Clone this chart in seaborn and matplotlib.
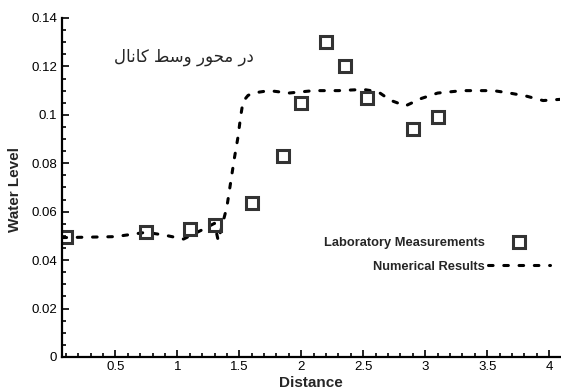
import numpy as np
import matplotlib
matplotlib.use("Agg")
import matplotlib.pyplot as plt
from matplotlib.lines import Line2D
from matplotlib.ticker import MultipleLocator, FuncFormatter
import seaborn as sns

# laboratory measurements (squares)
lab_x = [0.1, 0.75, 1.1, 1.3, 1.6, 1.85, 2.0, 2.2, 2.35, 2.53, 2.9, 3.1]
lab_y = [0.0495, 0.0515, 0.053, 0.0545, 0.0635, 0.083, 0.105, 0.130, 0.120, 0.107, 0.094, 0.099]

# numerical results (dashed line)
num_x = [0.07, 0.3, 0.5, 0.75, 0.9, 1.05, 1.2, 1.3, 1.33, 1.40, 1.43, 1.46, 1.49, 1.51,
         1.53, 1.57, 1.61, 1.74, 1.9, 2.1, 2.3, 2.5, 2.62, 2.72, 2.84, 2.97, 3.1, 3.3,
         3.55, 3.68, 3.81, 3.95, 4.09]
num_y = [0.0493, 0.0495, 0.0497, 0.0515, 0.0503, 0.0487, 0.0525, 0.0552, 0.048, 0.062,
         0.072, 0.082, 0.091, 0.099, 0.1055, 0.108, 0.109, 0.110, 0.109, 0.110, 0.110,
         0.1105, 0.1095, 0.106, 0.1037, 0.1068, 0.109, 0.110, 0.110, 0.109, 0.1078,
         0.1059, 0.1064]

# "در محور وسط کانال" in presentation forms, visual order (matplotlib does no shaping)
title_fa = "\uFEDD\uFE8E\uFEE7\uFE8E\uFB90 \uFEC2\uFEB3\uFEED \uFEAD\uFEEE\uFEA4\uFEE3 \uFEAD\uFEA9"

sns.set_theme(style="ticks")
plt.rcParams["font.family"] = ["Liberation Sans", "DejaVu Sans"]

dash = (0, (1.5, 3.5))

fig = plt.figure(figsize=(5.61, 3.91), dpi=100)
ax = fig.add_axes([0.1105, 0.087, 0.8885, 0.867])

sns.lineplot(x=num_x, y=num_y, ax=ax, sort=False, color="black", lw=2.2,
             dashes=False, linestyle=dash)
ax.lines[-1].set_dash_capstyle("round")
ax.plot(lab_x, lab_y, linestyle="none", marker="s", ms=9, mew=2.2,
        mfc="none", mec="#333333")

ax.set_xlim(0.07, 4.09)
ax.set_ylim(0, 0.14)
ax.xaxis.set_major_locator(MultipleLocator(0.5))
ax.xaxis.set_minor_locator(MultipleLocator(0.1))
ax.yaxis.set_major_locator(MultipleLocator(0.02))
ax.yaxis.set_minor_locator(MultipleLocator(0.005))
fmt = FuncFormatter(lambda v, p: "%g" % round(v, 4))
ax.xaxis.set_major_formatter(fmt)
ax.yaxis.set_major_formatter(fmt)
ax.tick_params(which="both", direction="in", colors="black", labelsize=9.5, width=1.2)
ax.tick_params(which="major", length=5)
ax.tick_params(which="minor", length=3)
ax.tick_params(axis="x", pad=3)
for s in ["top", "right"]:
    ax.spines[s].set_visible(False)
for s in ["left", "bottom"]:
    ax.spines[s].set_linewidth(1.6)
    ax.spines[s].set_color("black")

fig.text(311 / 561, 1 - 383 / 391, "Distance", ha="center", va="center",
         fontsize=11, fontweight="bold")
fig.text(15 / 561, 1 - 189 / 391, "Water Level", ha="center", va="center",
         rotation=90, fontsize=11, fontweight="bold")
fig.text(183.5 / 561, 1 - 57 / 391, title_fa, ha="center", va="center",
         fontsize=12, family="DejaVu Sans")

handles = [
    Line2D([], [], linestyle="none", marker="s", ms=9, mew=2.2, mfc="none", mec="#333333"),
    Line2D([], [], color="black", lw=2.2, linestyle=dash, dash_capstyle="round"),
]
fig.legend(handles, ["Laboratory Measurements", "Numerical Results"],
           loc="center right", bbox_to_anchor=(556 / 561, 1 - 255 / 391),
           frameon=False, markerfirst=False, numpoints=1, borderpad=0,
           handlelength=4.8, handletextpad=0.2, labelspacing=0.9,
           prop={"weight": "bold", "size": 9.3})

fig.savefig("out.png", dpi=100)
